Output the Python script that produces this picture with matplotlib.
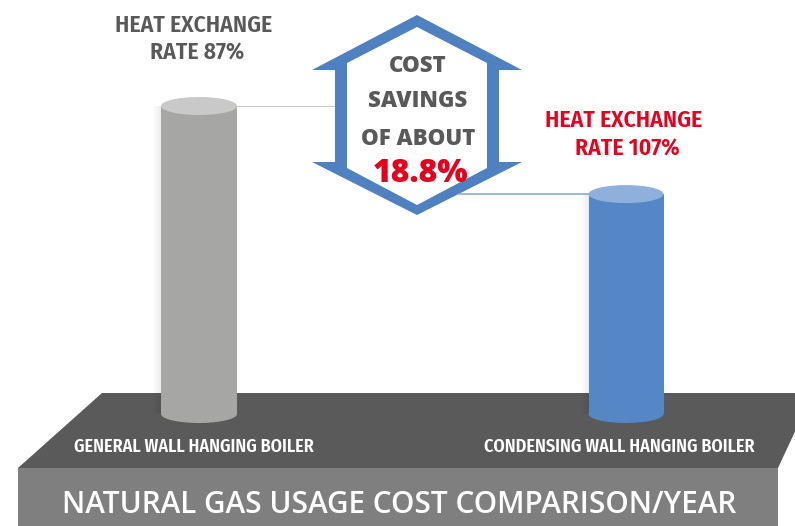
import matplotlib
matplotlib.use("Agg")
import matplotlib.pyplot as plt
from matplotlib.patches import Polygon, Ellipse, Rectangle
from matplotlib.transforms import blended_transform_factory

# ---------------- data ----------------
categories = ["GENERAL WALL HANGING BOILER", "CONDENSING WALL HANGING BOILER"]
rate_lines = [["HEAT EXCHANGE", "RATE 87%"], ["HEAT EXCHANGE", "RATE 107%"]]
usage_cost = [100.0, 71.4]          # relative cylinder heights
savings_lines = ["COST", "SAVINGS", "OF ABOUT"]
savings_value = "18.8%"
title = "NATURAL GAS USAGE COST COMPARISON/YEAR"

# ---------------- style ----------------
W, H = 795, 526
body_colors = ["#a6a6a4", "#5586c6"]
top_colors = ["#c9c9c9", "#8fb0dd"]
label_colors = ["#595959", "#e8001c"]
line_colors = ["#bdbdbd", "#8faadc"]
hex_blue = "#4f80c0"
narrow = ["Fira Sans Condensed", "DejaVu Sans"]
wide = ["Open Sans", "DejaVu Sans"]

fig = plt.figure(figsize=(W / 100, H / 100), dpi=100)
bg = fig.add_axes([0, 0, 1, 1])
bg.set_xlim(0, W)
bg.set_ylim(H, 0)
bg.axis("off")

# platform
bg.add_patch(Polygon([(102, 393), (813, 393), (778, 468), (18, 468)],
                     closed=True, fc="#595a59", ec="none", zorder=1))
bg.add_patch(Rectangle((18, 468), 760, 60, fc="#7f7f7f", ec="none", zorder=1))
bg.text(399, 513, title, color="white", fontsize=21.4, family=wide,
        fontweight=600, ha="center", va="baseline", zorder=3)

# hexagon double arrow
cx = 417
outer = [(cx, 15), (cx + 105, 70), (cx + 82, 70), (cx + 82, 162), (cx + 105, 162),
         (cx, 215), (cx - 105, 162), (cx - 82, 162), (cx - 82, 70), (cx - 105, 70)]
inner = [(cx, 27), (cx + 70, 63), (cx + 70, 168), (cx, 205), (cx - 70, 168), (cx - 70, 63)]

# bar axes: base at y=414 px, value 100 at y=106 px
base_px, top_px = 414, 106
x_px = [199, 626]
bw_px = [76, 75]
scale = x_px[1] - x_px[0]
bar_ax = fig.add_axes([0, (H - base_px) / H, 1, (base_px - top_px) / H])
bar_ax.set_xlim(-x_px[0] / scale, (W - x_px[0]) / scale)
bar_ax.set_ylim(0, 100)
bar_ax.axis("off")
bar_ax.patch.set_alpha(0)

px_y = 100 / (base_px - top_px)     # data units per pixel (y)
px_x = 1 / scale                    # data units per pixel (x)
ell_h = 18 * px_y

# connector lines (x in pixels, y in data)
mix = blended_transform_factory(bg.transData, bar_ax.transData)
for i, v in enumerate(usage_cost):
    if i == 0:
        xs = [x_px[0] + bw_px[0] / 2, cx - 82]
    else:
        ypix = base_px - v / px_y
        xs = [cx + 105 - 105 * (ypix - 162) / 53, x_px[1] - bw_px[1] / 2]
    bar_ax.plot(xs, [v, v], color=line_colors[i], lw=1.2, transform=mix,
                zorder=1, solid_capstyle="butt")

bg.add_patch(Polygon(outer, closed=True, fc=hex_blue, ec="none", zorder=4))
bg.add_patch(Polygon(inner, closed=True, fc="white", ec="none", zorder=5))
for txt, yb in zip(savings_lines, [72, 107, 145]):
    bg.text(cx + 1, yb, txt, color="#595959", fontsize=16, family=wide,
            fontweight=800, ha="center", va="baseline", zorder=6)
bg.text(cx + 4, 182, savings_value, color="#e8001c", fontsize=23, family=wide,
        fontweight=800, ha="center", va="baseline", zorder=6)

# rate labels
for i, lines in enumerate(rate_lines):
    xc = [194, 624][i]
    yb = [32, 127][i]
    for j, t in enumerate(lines):
        bg.text(xc + 3 * j, yb + 28 * j, t, color=label_colors[i], fontsize=17,
                family=narrow, fontweight=600, ha="center", va="baseline")

# category labels on platform
for i, c in enumerate(categories):
    bg.text([194, 619][i], 452, c, color="white", fontsize=13, family=narrow,
            fontweight=600, ha="center", va="baseline", zorder=3)

# cylinders
xs = range(len(usage_cost))
widths = [w * px_x for w in bw_px]
for i, v in enumerate(usage_cost):
    w = widths[i]
    for k in range(8):
        bar_ax.add_patch(Rectangle((i - w / 2 - (k + 1) * px_x, 0), px_x, v,
                                   fc="#000000", alpha=0.07 * (8 - k) / 8, ec="none",
                                   zorder=2, clip_on=False))
    bar_ax.add_patch(Ellipse((i, 0), w, ell_h, fc=body_colors[i], ec="none",
                             zorder=3, clip_on=False))
bar_ax.bar(list(xs), usage_cost, width=widths, color=body_colors, zorder=4)
for i, v in enumerate(usage_cost):
    bar_ax.add_patch(Ellipse((i, v), widths[i], ell_h, fc=top_colors[i], ec="none",
                             zorder=5, clip_on=False))

fig.savefig("out.png", dpi=100)
